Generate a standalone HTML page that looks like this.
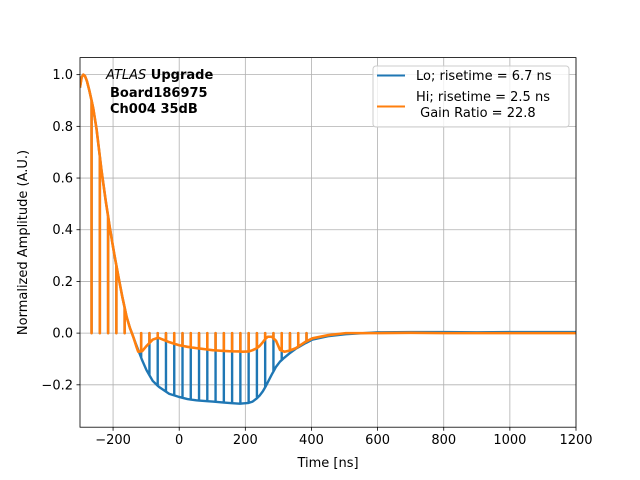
<!DOCTYPE html>
<html><head><meta charset="utf-8"><style>
html,body{margin:0;padding:0;background:#fff;}
svg{display:block;font-family:"DejaVu Sans","Liberation Sans",sans-serif;}
</style></head><body>
<svg id="chart" width="640" height="480" viewBox="0 0 640 480">
<rect x="0" y="0" width="640" height="480" fill="#fff"/>
<g id="grid"></g><g id="series"></g><g id="axes"></g>
<g font-size="13" font-weight="bold">
<text x="106" y="79"><tspan font-style="italic" font-weight="normal">ATLAS</tspan> Upgrade</text>
<text x="110" y="97">Board186975</text>
<text x="110" y="113">Ch004 35dB</text>
</g>
<g>
<rect x="373" y="66" width="196" height="61" rx="3" fill="#fff" fill-opacity="0.8" stroke="#cccccc" stroke-width="1"/>
<line x1="377" y1="75.5" x2="405" y2="75.5" stroke="#1f77b4" stroke-width="2"/>
<text x="416" y="80" font-size="13">Lo; risetime = 6.7 ns</text>
<line x1="377" y1="106.5" x2="405" y2="106.5" stroke="#ff7f0e" stroke-width="2"/>
<text x="416" y="101" font-size="13">Hi; risetime = 2.5 ns</text>
<text x="416" y="117" font-size="13" xml:space="preserve"> Gain Ratio = 22.8</text>
</g>
<text x="328" y="467" font-size="13" text-anchor="middle">Time [ns]</text>
<text x="0" y="0" font-size="13" text-anchor="middle" transform="translate(27,242.5) rotate(-90)">Normalized Amplitude (A.U.)</text>
</svg>
<script>
const times = [-300,-295,-290,-285,-279,-272,-265,-260,-250,-235,-222,-210,-197,-184,-172,-159,-149,-139,-130,-124,-112,-99,-80,-64,-59,-30,0,25,52,101,150,183,192,210,222,235,243,253,262,268,280,293,305,318,333,353,380,403,450,504,600,700,800,900,1000,1100,1200];
const loValues = [0.95,0.99,1.0,0.995,0.975,0.94,0.9,0.87,0.79,0.63,0.51,0.41,0.31,0.22,0.14,0.063,0.02,-0.014,-0.045,-0.065,-0.105,-0.143,-0.185,-0.205,-0.21,-0.235,-0.247,-0.255,-0.26,-0.265,-0.27,-0.273,-0.272,-0.27,-0.265,-0.252,-0.242,-0.225,-0.205,-0.19,-0.16,-0.13,-0.11,-0.095,-0.079,-0.06,-0.04,-0.025,-0.012,-0.004,0.003,0.004,0.004,0.003,0.004,0.004,0.004];
const hiValues = [0.95,0.99,1.0,0.995,0.975,0.94,0.9,0.87,0.79,0.63,0.51,0.41,0.31,0.22,0.14,0.063,0.02,-0.014,-0.05,-0.072,-0.07,-0.05,-0.025,-0.018,-0.02,-0.035,-0.047,-0.053,-0.058,-0.066,-0.07,-0.071,-0.072,-0.071,-0.066,-0.058,-0.05,-0.035,-0.02,-0.014,-0.014,-0.03,-0.065,-0.072,-0.068,-0.058,-0.035,-0.02,-0.008,0.0,0.0,0.001,0.0,0.0,0.0,0.0,0.0];
const spikeTimes = [-265,-240,-215,-190,-165,-115,-90,-65,-40,-15,10,35,60,85,110,135,160,185,210,235,260,285,310,335,360,385];
const xTicks = [-200,0,200,400,600,800,1000,1200];
const yTicks = [-0.2,0.0,0.2,0.4,0.6,0.8,1.0];

const L=80,R=576,T=57.6,B=427.2, xmin=-300,xmax=1200, ymin=-0.364,ymax=1.066;
const sx=v=>L+(v-xmin)/(xmax-xmin)*(R-L);
const sy=v=>B-(v-ymin)/(ymax-ymin)*(B-T);
const NS='http://www.w3.org/2000/svg';
function mk(tag,attrs,parent){const e=document.createElementNS(NS,tag);for(const k in attrs)e.setAttribute(k,attrs[k]);parent.appendChild(e);return e;}
const grid=document.getElementById('grid'),axes=document.getElementById('axes'),series=document.getElementById('series');
function valAt(arr,t){for(let i=0;i<times.length-1;i++){if(t>=times[i]&&t<=times[i+1]){const f=(t-times[i])/(times[i+1]-times[i]);return arr[i]+f*(arr[i+1]-arr[i]);}}return arr[arr.length-1];}
xTicks.forEach(v=>{
 const x=sx(v);
 const g=mk('line',{x1:x,y1:T,x2:x,y2:B,stroke:'#b0b0b0','stroke-width':0.8},grid);
 
 
 mk('line',{x1:x,y1:B,x2:x,y2:B+3.5,stroke:'#000','stroke-width':0.8},axes);
 const t=mk('text',{x:x,y:B+17,'font-size':13,'text-anchor':'middle'},axes);
 t.textContent=v<0?'\u2212'+Math.abs(v):String(v);
 
 
});
yTicks.forEach(v=>{
 const y=sy(v);
 const g=mk('line',{x1:L,y1:y,x2:R,y2:y,stroke:'#b0b0b0','stroke-width':0.8},grid);
 
 
 mk('line',{x1:L-3.5,y1:y,x2:L,y2:y,stroke:'#000','stroke-width':0.8},axes);
 const t=mk('text',{x:L-7,y:y+4.5,'font-size':13,'text-anchor':'end'},axes);
 t.textContent=(v<0?'\u2212':'')+Math.abs(v).toFixed(1);
 
 
});
const frame=mk('rect',{x:L,y:T,width:R-L,height:B-T,fill:'none',stroke:'#000','stroke-width':0.8},axes);


function buildPath(arr){
 const pts=[];times.forEach((t,i)=>pts.push([t,arr[i],0]));
 spikeTimes.forEach(t=>pts.push([t,valAt(arr,t),1]));
 pts.sort((a,b)=>a[0]-b[0]);
 let d='';
 pts.forEach((p,i)=>{const x=sx(p[0]).toFixed(2),y=sy(p[1]).toFixed(2);
  d+=(i?'L':'M')+x+' '+y;
  if(p[2]){d+='L'+x+' '+sy(0).toFixed(2)+'L'+x+' '+y;}
 });
 return d;
}
const clip=mk('clipPath',{id:'pc'},series);mk('rect',{x:L,y:T,width:R-L,height:B-T},clip);
const lo=mk('path',{d:buildPath(loValues),fill:'none',stroke:'#1f77b4','stroke-width':2.4,'stroke-linejoin':'round','clip-path':'url(#pc)'},series);


const hi=mk('path',{d:buildPath(hiValues),fill:'none',stroke:'#ff7f0e','stroke-width':2.6,'stroke-linejoin':'round','clip-path':'url(#pc)'},series);


</script>
</body></html>
